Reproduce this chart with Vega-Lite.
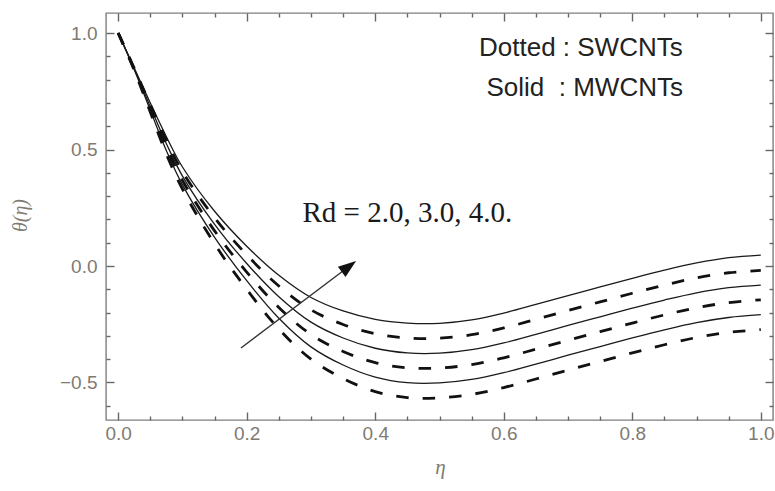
{
  "$schema": "https://vega.github.io/schema/vega-lite/v6.json",
  "width": 667,
  "height": 407,
  "autosize": {"type": "none"},
  "padding": {"left": 106, "top": 13, "right": 2, "bottom": 71},
  "background": "white",
  "config": {
    "view": {"stroke": "#7f7f7f", "strokeWidth": 1.4},
    "font": "Liberation Sans",
    "axis": {"domain": false, "grid": false, "labelFont": "Liberation Sans", "labelFontSize": 19, "labelColor": "#7f7a72", "tickColor": "#666666", "tickWidth": 1.4}
  },
  "datasets": {
    "curves": [
      {"eta":0,"theta":1,"nanotube":"MWCNTs","Rd":"4.0"},{"eta":0.025,"theta":0.85,"nanotube":"MWCNTs","Rd":"4.0"},{"eta":0.05,"theta":0.70,"nanotube":"MWCNTs","Rd":"4.0"},{"eta":0.075,"theta":0.555,"nanotube":"MWCNTs","Rd":"4.0"},{"eta":0.1,"theta":0.425,"nanotube":"MWCNTs","Rd":"4.0"},{"eta":0.15,"theta":0.235,"nanotube":"MWCNTs","Rd":"4.0"},{"eta":0.2,"theta":0.085,"nanotube":"MWCNTs","Rd":"4.0"},{"eta":0.25,"theta":-0.04,"nanotube":"MWCNTs","Rd":"4.0"},{"eta":0.3,"theta":-0.135,"nanotube":"MWCNTs","Rd":"4.0"},{"eta":0.35,"theta":-0.193,"nanotube":"MWCNTs","Rd":"4.0"},{"eta":0.4,"theta":-0.229,"nanotube":"MWCNTs","Rd":"4.0"},{"eta":0.45,"theta":-0.245,"nanotube":"MWCNTs","Rd":"4.0"},{"eta":0.5,"theta":-0.246,"nanotube":"MWCNTs","Rd":"4.0"},{"eta":0.55,"theta":-0.231,"nanotube":"MWCNTs","Rd":"4.0"},{"eta":0.6,"theta":-0.202,"nanotube":"MWCNTs","Rd":"4.0"},{"eta":0.65,"theta":-0.165,"nanotube":"MWCNTs","Rd":"4.0"},{"eta":0.7,"theta":-0.127,"nanotube":"MWCNTs","Rd":"4.0"},{"eta":0.75,"theta":-0.09,"nanotube":"MWCNTs","Rd":"4.0"},{"eta":0.8,"theta":-0.053,"nanotube":"MWCNTs","Rd":"4.0"},{"eta":0.85,"theta":-0.018,"nanotube":"MWCNTs","Rd":"4.0"},{"eta":0.9,"theta":0.013,"nanotube":"MWCNTs","Rd":"4.0"},{"eta":0.95,"theta":0.036,"nanotube":"MWCNTs","Rd":"4.0"},{"eta":1.0,"theta":0.047,"nanotube":"MWCNTs","Rd":"4.0"},

      {"eta":0,"theta":1,"nanotube":"SWCNTs","Rd":"4.0"},{"eta":0.025,"theta":0.848,"nanotube":"SWCNTs","Rd":"4.0"},{"eta":0.05,"theta":0.692,"nanotube":"SWCNTs","Rd":"4.0"},{"eta":0.075,"theta":0.54,"nanotube":"SWCNTs","Rd":"4.0"},{"eta":0.1,"theta":0.405,"nanotube":"SWCNTs","Rd":"4.0"},{"eta":0.15,"theta":0.207,"nanotube":"SWCNTs","Rd":"4.0"},{"eta":0.2,"theta":0.048,"nanotube":"SWCNTs","Rd":"4.0"},{"eta":0.25,"theta":-0.086,"nanotube":"SWCNTs","Rd":"4.0"},{"eta":0.3,"theta":-0.188,"nanotube":"SWCNTs","Rd":"4.0"},{"eta":0.35,"theta":-0.251,"nanotube":"SWCNTs","Rd":"4.0"},{"eta":0.4,"theta":-0.291,"nanotube":"SWCNTs","Rd":"4.0"},{"eta":0.45,"theta":-0.309,"nanotube":"SWCNTs","Rd":"4.0"},{"eta":0.5,"theta":-0.31,"nanotube":"SWCNTs","Rd":"4.0"},{"eta":0.55,"theta":-0.295,"nanotube":"SWCNTs","Rd":"4.0"},{"eta":0.6,"theta":-0.266,"nanotube":"SWCNTs","Rd":"4.0"},{"eta":0.65,"theta":-0.229,"nanotube":"SWCNTs","Rd":"4.0"},{"eta":0.7,"theta":-0.191,"nanotube":"SWCNTs","Rd":"4.0"},{"eta":0.75,"theta":-0.154,"nanotube":"SWCNTs","Rd":"4.0"},{"eta":0.8,"theta":-0.117,"nanotube":"SWCNTs","Rd":"4.0"},{"eta":0.85,"theta":-0.082,"nanotube":"SWCNTs","Rd":"4.0"},{"eta":0.9,"theta":-0.051,"nanotube":"SWCNTs","Rd":"4.0"},{"eta":0.95,"theta":-0.029,"nanotube":"SWCNTs","Rd":"4.0"},{"eta":1.0,"theta":-0.019,"nanotube":"SWCNTs","Rd":"4.0"},

      {"eta":0,"theta":1,"nanotube":"MWCNTs","Rd":"3.0"},{"eta":0.025,"theta":0.846,"nanotube":"MWCNTs","Rd":"3.0"},{"eta":0.05,"theta":0.684,"nanotube":"MWCNTs","Rd":"3.0"},{"eta":0.075,"theta":0.525,"nanotube":"MWCNTs","Rd":"3.0"},{"eta":0.1,"theta":0.386,"nanotube":"MWCNTs","Rd":"3.0"},{"eta":0.15,"theta":0.179,"nanotube":"MWCNTs","Rd":"3.0"},{"eta":0.2,"theta":0.011,"nanotube":"MWCNTs","Rd":"3.0"},{"eta":0.25,"theta":-0.132,"nanotube":"MWCNTs","Rd":"3.0"},{"eta":0.3,"theta":-0.241,"nanotube":"MWCNTs","Rd":"3.0"},{"eta":0.35,"theta":-0.309,"nanotube":"MWCNTs","Rd":"3.0"},{"eta":0.4,"theta":-0.353,"nanotube":"MWCNTs","Rd":"3.0"},{"eta":0.45,"theta":-0.373,"nanotube":"MWCNTs","Rd":"3.0"},{"eta":0.5,"theta":-0.374,"nanotube":"MWCNTs","Rd":"3.0"},{"eta":0.55,"theta":-0.359,"nanotube":"MWCNTs","Rd":"3.0"},{"eta":0.6,"theta":-0.33,"nanotube":"MWCNTs","Rd":"3.0"},{"eta":0.65,"theta":-0.293,"nanotube":"MWCNTs","Rd":"3.0"},{"eta":0.7,"theta":-0.255,"nanotube":"MWCNTs","Rd":"3.0"},{"eta":0.75,"theta":-0.218,"nanotube":"MWCNTs","Rd":"3.0"},{"eta":0.8,"theta":-0.181,"nanotube":"MWCNTs","Rd":"3.0"},{"eta":0.85,"theta":-0.146,"nanotube":"MWCNTs","Rd":"3.0"},{"eta":0.9,"theta":-0.115,"nanotube":"MWCNTs","Rd":"3.0"},{"eta":0.95,"theta":-0.093,"nanotube":"MWCNTs","Rd":"3.0"},{"eta":1.0,"theta":-0.082,"nanotube":"MWCNTs","Rd":"3.0"},

      {"eta":0,"theta":1,"nanotube":"SWCNTs","Rd":"3.0"},{"eta":0.025,"theta":0.844,"nanotube":"SWCNTs","Rd":"3.0"},{"eta":0.05,"theta":0.676,"nanotube":"SWCNTs","Rd":"3.0"},{"eta":0.075,"theta":0.51,"nanotube":"SWCNTs","Rd":"3.0"},{"eta":0.1,"theta":0.367,"nanotube":"SWCNTs","Rd":"3.0"},{"eta":0.15,"theta":0.151,"nanotube":"SWCNTs","Rd":"3.0"},{"eta":0.2,"theta":-0.026,"nanotube":"SWCNTs","Rd":"3.0"},{"eta":0.25,"theta":-0.178,"nanotube":"SWCNTs","Rd":"3.0"},{"eta":0.3,"theta":-0.294,"nanotube":"SWCNTs","Rd":"3.0"},{"eta":0.35,"theta":-0.367,"nanotube":"SWCNTs","Rd":"3.0"},{"eta":0.4,"theta":-0.415,"nanotube":"SWCNTs","Rd":"3.0"},{"eta":0.45,"theta":-0.437,"nanotube":"SWCNTs","Rd":"3.0"},{"eta":0.5,"theta":-0.438,"nanotube":"SWCNTs","Rd":"3.0"},{"eta":0.55,"theta":-0.423,"nanotube":"SWCNTs","Rd":"3.0"},{"eta":0.6,"theta":-0.394,"nanotube":"SWCNTs","Rd":"3.0"},{"eta":0.65,"theta":-0.357,"nanotube":"SWCNTs","Rd":"3.0"},{"eta":0.7,"theta":-0.319,"nanotube":"SWCNTs","Rd":"3.0"},{"eta":0.75,"theta":-0.282,"nanotube":"SWCNTs","Rd":"3.0"},{"eta":0.8,"theta":-0.245,"nanotube":"SWCNTs","Rd":"3.0"},{"eta":0.85,"theta":-0.21,"nanotube":"SWCNTs","Rd":"3.0"},{"eta":0.9,"theta":-0.179,"nanotube":"SWCNTs","Rd":"3.0"},{"eta":0.95,"theta":-0.157,"nanotube":"SWCNTs","Rd":"3.0"},{"eta":1.0,"theta":-0.145,"nanotube":"SWCNTs","Rd":"3.0"},

      {"eta":0,"theta":1,"nanotube":"MWCNTs","Rd":"2.0"},{"eta":0.025,"theta":0.842,"nanotube":"MWCNTs","Rd":"2.0"},{"eta":0.05,"theta":0.668,"nanotube":"MWCNTs","Rd":"2.0"},{"eta":0.075,"theta":0.495,"nanotube":"MWCNTs","Rd":"2.0"},{"eta":0.1,"theta":0.348,"nanotube":"MWCNTs","Rd":"2.0"},{"eta":0.15,"theta":0.123,"nanotube":"MWCNTs","Rd":"2.0"},{"eta":0.2,"theta":-0.063,"nanotube":"MWCNTs","Rd":"2.0"},{"eta":0.25,"theta":-0.224,"nanotube":"MWCNTs","Rd":"2.0"},{"eta":0.3,"theta":-0.347,"nanotube":"MWCNTs","Rd":"2.0"},{"eta":0.35,"theta":-0.425,"nanotube":"MWCNTs","Rd":"2.0"},{"eta":0.4,"theta":-0.477,"nanotube":"MWCNTs","Rd":"2.0"},{"eta":0.45,"theta":-0.501,"nanotube":"MWCNTs","Rd":"2.0"},{"eta":0.5,"theta":-0.502,"nanotube":"MWCNTs","Rd":"2.0"},{"eta":0.55,"theta":-0.487,"nanotube":"MWCNTs","Rd":"2.0"},{"eta":0.6,"theta":-0.458,"nanotube":"MWCNTs","Rd":"2.0"},{"eta":0.65,"theta":-0.421,"nanotube":"MWCNTs","Rd":"2.0"},{"eta":0.7,"theta":-0.383,"nanotube":"MWCNTs","Rd":"2.0"},{"eta":0.75,"theta":-0.346,"nanotube":"MWCNTs","Rd":"2.0"},{"eta":0.8,"theta":-0.309,"nanotube":"MWCNTs","Rd":"2.0"},{"eta":0.85,"theta":-0.274,"nanotube":"MWCNTs","Rd":"2.0"},{"eta":0.9,"theta":-0.243,"nanotube":"MWCNTs","Rd":"2.0"},{"eta":0.95,"theta":-0.221,"nanotube":"MWCNTs","Rd":"2.0"},{"eta":1.0,"theta":-0.209,"nanotube":"MWCNTs","Rd":"2.0"},

      {"eta":0,"theta":1,"nanotube":"SWCNTs","Rd":"2.0"},{"eta":0.025,"theta":0.84,"nanotube":"SWCNTs","Rd":"2.0"},{"eta":0.05,"theta":0.66,"nanotube":"SWCNTs","Rd":"2.0"},{"eta":0.075,"theta":0.48,"nanotube":"SWCNTs","Rd":"2.0"},{"eta":0.1,"theta":0.33,"nanotube":"SWCNTs","Rd":"2.0"},{"eta":0.15,"theta":0.095,"nanotube":"SWCNTs","Rd":"2.0"},{"eta":0.2,"theta":-0.10,"nanotube":"SWCNTs","Rd":"2.0"},{"eta":0.25,"theta":-0.27,"nanotube":"SWCNTs","Rd":"2.0"},{"eta":0.3,"theta":-0.40,"nanotube":"SWCNTs","Rd":"2.0"},{"eta":0.35,"theta":-0.483,"nanotube":"SWCNTs","Rd":"2.0"},{"eta":0.4,"theta":-0.539,"nanotube":"SWCNTs","Rd":"2.0"},{"eta":0.45,"theta":-0.565,"nanotube":"SWCNTs","Rd":"2.0"},{"eta":0.5,"theta":-0.566,"nanotube":"SWCNTs","Rd":"2.0"},{"eta":0.55,"theta":-0.551,"nanotube":"SWCNTs","Rd":"2.0"},{"eta":0.6,"theta":-0.522,"nanotube":"SWCNTs","Rd":"2.0"},{"eta":0.65,"theta":-0.485,"nanotube":"SWCNTs","Rd":"2.0"},{"eta":0.7,"theta":-0.447,"nanotube":"SWCNTs","Rd":"2.0"},{"eta":0.75,"theta":-0.41,"nanotube":"SWCNTs","Rd":"2.0"},{"eta":0.8,"theta":-0.373,"nanotube":"SWCNTs","Rd":"2.0"},{"eta":0.85,"theta":-0.338,"nanotube":"SWCNTs","Rd":"2.0"},{"eta":0.9,"theta":-0.307,"nanotube":"SWCNTs","Rd":"2.0"},{"eta":0.95,"theta":-0.285,"nanotube":"SWCNTs","Rd":"2.0"},{"eta":1.0,"theta":-0.273,"nanotube":"SWCNTs","Rd":"2.0"}
    ],
    "notes": [
      {"x": 0.72, "y": 0.901, "label": "Dotted : SWCNTs"},
      {"x": 0.726, "y": 0.73, "label": "Solid\u00a0 : MWCNTs"}
    ],
    "rdnote": [
      {"x": 0.45, "y": 0.189, "label": "Rd = 2.0, 3.0, 4.0."}
    ],
    "arrow": [
      {"x": 0.191, "y": -0.352, "x2": 0.359, "y2": -0.002}
    ],
    "head": [
      {"x": 0.359, "y": -0.002}
    ]
  },
  "resolve": {"axis": {"x": "independent", "y": "independent"}},
  "layer": [
    {
      "data": {"name": "curves"},
      "transform": [{"filter": "datum.nanotube === 'MWCNTs'"}],
      "mark": {"type": "line", "color": "#1a1a1a", "strokeWidth": 1.3, "interpolate": "catmull-rom"},
      "encoding": {
        "x": {"field": "eta", "type": "quantitative", "scale": {"domain": [-0.019, 1.019], "nice": false, "zero": false},
          "axis": {"orient": "bottom", "offset": -8, "values": [0, 0.2, 0.4, 0.6, 0.8, 1], "format": ".1f", "tickSize": 8, "labelPadding": 4,
            "title": "η", "titleFont": "Liberation Serif", "titleFontStyle": "italic", "titleFontWeight": "normal", "titleFontSize": 21, "titleColor": "#7f7a72",
            "titleX": 334, "titleY": 55, "titleBaseline": "middle", "titleAlign": "center"}},
        "y": {"field": "theta", "type": "quantitative", "scale": {"domain": [-0.661, 1.086], "nice": false, "zero": false},
          "axis": {"orient": "left", "offset": -8, "values": [-0.5, 0, 0.5, 1], "format": ".1f", "tickSize": 8, "labelPadding": 9,
            "title": "θ(η)", "titleFont": "Liberation Serif", "titleFontStyle": "italic", "titleFontWeight": "normal", "titleFontSize": 20, "titleColor": "#7f7a72",
            "titleX": -94, "titleY": 202, "titleAngle": -90, "titleBaseline": "middle", "titleAlign": "center"}},
        "detail": {"field": "Rd"}
      }
    },
    {
      "data": {"name": "curves"},
      "transform": [{"filter": "datum.nanotube === 'SWCNTs'"}],
      "mark": {"type": "line", "color": "#111111", "strokeWidth": 2.8, "strokeDash": [12.5, 14], "interpolate": "catmull-rom"},
      "encoding": {
        "x": {"field": "eta", "type": "quantitative", "scale": {"domain": [-0.019, 1.019], "nice": false, "zero": false},
          "axis": {"orient": "bottom", "offset": -4, "values": [0.05, 0.1, 0.15, 0.25, 0.3, 0.35, 0.45, 0.5, 0.55, 0.65, 0.7, 0.75, 0.85, 0.9, 0.95], "labels": false, "tickSize": 4, "title": null}},
        "y": {"field": "theta", "type": "quantitative", "scale": {"domain": [-0.661, 1.086], "nice": false, "zero": false},
          "axis": {"orient": "left", "offset": -4, "values": [-0.6, -0.4, -0.3, -0.2, -0.1, 0.1, 0.2, 0.3, 0.4, 0.6, 0.7, 0.8, 0.9], "labels": false, "tickSize": 4, "title": null}},
        "detail": {"field": "Rd"}
      }
    },
    {
      "data": {"name": "notes"},
      "mark": {"type": "text", "font": "Liberation Sans", "fontSize": 26, "color": "#222222", "align": "center", "baseline": "alphabetic"},
      "encoding": {
        "x": {"field": "x", "type": "quantitative", "scale": {"domain": [-0.019, 1.019], "nice": false, "zero": false},
          "axis": {"orient": "top", "offset": -8, "values": [0, 0.2, 0.4, 0.6, 0.8, 1], "labels": false, "tickSize": 8, "title": null}},
        "y": {"field": "y", "type": "quantitative", "scale": {"domain": [-0.661, 1.086], "nice": false, "zero": false},
          "axis": {"orient": "right", "offset": -8, "values": [-0.5, 0, 0.5, 1], "labels": false, "tickSize": 8, "title": null}},
        "text": {"field": "label"}
      }
    },
    {
      "data": {"name": "rdnote"},
      "mark": {"type": "text", "font": "Liberation Serif", "fontSize": 29, "color": "#1a1a1a", "align": "center", "baseline": "alphabetic"},
      "encoding": {
        "x": {"field": "x", "type": "quantitative", "scale": {"domain": [-0.019, 1.019], "nice": false, "zero": false},
          "axis": {"orient": "top", "offset": -4, "values": [0.05, 0.1, 0.15, 0.25, 0.3, 0.35, 0.45, 0.5, 0.55, 0.65, 0.7, 0.75, 0.85, 0.9, 0.95], "labels": false, "tickSize": 4, "title": null}},
        "y": {"field": "y", "type": "quantitative", "scale": {"domain": [-0.661, 1.086], "nice": false, "zero": false},
          "axis": {"orient": "right", "offset": -4, "values": [-0.6, -0.4, -0.3, -0.2, -0.1, 0.1, 0.2, 0.3, 0.4, 0.6, 0.7, 0.8, 0.9], "labels": false, "tickSize": 4, "title": null}},
        "text": {"field": "label"}
      }
    },
    {
      "data": {"name": "arrow"},
      "mark": {"type": "rule", "color": "#333333", "strokeWidth": 1.4},
      "encoding": {
        "x": {"field": "x", "type": "quantitative", "scale": {"domain": [-0.019, 1.019], "nice": false, "zero": false}, "axis": null},
        "y": {"field": "y", "type": "quantitative", "scale": {"domain": [-0.661, 1.086], "nice": false, "zero": false}, "axis": null},
        "x2": {"field": "x2"},
        "y2": {"field": "y2"}
      }
    },
    {
      "data": {"name": "head"},
      "mark": {"type": "point", "shape": "M0,-1L0.7,1L-0.7,1Z", "size": 324, "angle": 53, "filled": true, "color": "#111111", "opacity": 1, "strokeWidth": 0},
      "encoding": {
        "x": {"field": "x", "type": "quantitative", "scale": {"domain": [-0.019, 1.019], "nice": false, "zero": false}, "axis": null},
        "y": {"field": "y", "type": "quantitative", "scale": {"domain": [-0.661, 1.086], "nice": false, "zero": false}, "axis": null}
      }
    }
  ]
}
